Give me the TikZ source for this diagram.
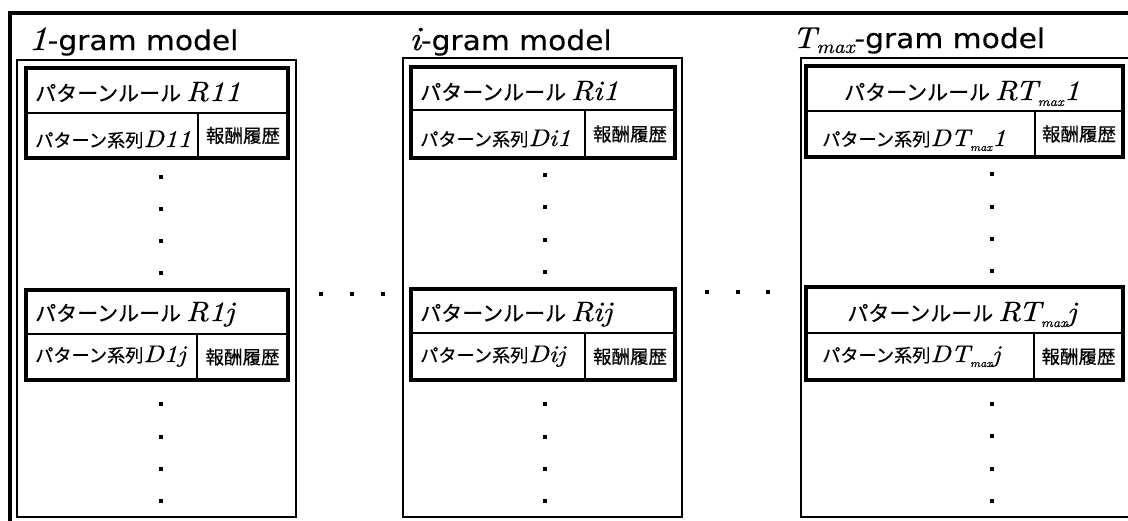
\documentclass[tikz,border=0pt]{standalone}
\usepackage{fontspec}
\newfontfamily\jp[FakeBold=0.5]{Noto Sans CJK JP}
\newfontfamily\lat[FakeBold=0.3,FakeStretch=1.1]{DejaVu Sans}
\newfontfamily\mitfont[FakeStretch=1.12,FakeBold=0.4]{lmroman10-italic.otf}
\tikzset{
  x=1pt, y=-1pt,
  outerframe/.style={line width=4pt},
  modelbox/.style={line width=2.8pt},
  rulebox/.style={line width=3.6pt},
  divider/.style={line width=1.3pt},
  title/.style={anchor=base west, inner sep=0pt, font=\lat\fontsize{27}{30}\selectfont},
  rowone/.style={inner sep=0pt, font=\jp\fontsize{21}{24}\selectfont},
  rowtwo/.style={inner sep=0pt, font=\jp\fontsize{18.2}{21}\selectfont},
  hist/.style={inner sep=0pt, font=\jp\fontsize{18.5}{21}\selectfont},
  vdot/.style={fill=black},
}
% italic symbol text at a given size
\newcommand\sym[2]{{\fontsize{#1}{#1}\selectfont\mitfont #2}}
% lowered small "max" index: size, drop
\newcommand\maxidx[2]{\raisebox{-#2pt}{\sym{#1}{max}}}
% a rule box: left, top, mid, bottom, right, divider x, name, first row, second row
\newcommand\rulecell[9]{%
  \draw[divider] (#1,#3) -- (#5,#3);
  \draw[divider] (#6,#3) -- (#6,#4);
  \draw[rulebox] (#1,#2) rectangle (#5,#4);
  \node[hist] (#7h) at ({(#6+#5)/2},{(#3+#4)/2}) {報酬履歴};
  #8
  #9
}
\newcommand\dotcol[5]{%
  \foreach \yy in {#2,#3,#4,#5} \fill[vdot] (#1-1.6,\yy-1.6) rectangle (#1+1.6,\yy+1.6);
}
\begin{document}
\begin{tikzpicture}
\useasboundingbox (0,0) rectangle (1128,520);
\clip (0,0) rectangle (1128,520);

% frame holding all models
\draw[outerframe] (10,12.5) rectangle (1160,560);

% ---------- 1-gram model ----------
\node[title] (t1) at (28,50) {\sym{34}{1}-gram model};
\draw[modelbox] (17,60) rectangle (296,517);
\rulecell{26}{68}{113}{158}{288}{198}{a1}
  {\node[rowone, anchor=base west] (a1r) at (35,101) {パターンルール \sym{28}{R11}};}
  {\node[rowtwo, anchor=base west] (a1d) at (35,147) {パターン系列\sym{24}{D11}};}
\dotcol{161}{177}{209}{241}{273}
\rulecell{26}{290}{334}{380}{288}{197}{aj}
  {\node[rowone, anchor=base west] (ajr) at (35,321) {パターンルール \sym{28}{R1j}};}
  {\node[rowtwo, anchor=base west] (ajd) at (35,362) {パターン系列\sym{24}{D1j}};}
\dotcol{161}{404}{437}{469}{501}

% dots between models
\foreach \xx in {321,352,383} \fill (\xx-2,292) rectangle (\xx+2,296);
\foreach \xx in {707,738,768} \fill (\xx-2,290) rectangle (\xx+2,294);

% ---------- i-gram model ----------
\node[title] (ti) at (409,50) {\sym{34}{i}-gram model};
\draw[modelbox] (403,58) rectangle (682,517);
\rulecell{411}{67}{110}{158}{675}{585}{b1}
  {\node[rowone, anchor=base west] (b1r) at (420,100) {パターンルール \sym{28}{Ri1}};}
  {\node[rowtwo, anchor=base west] (b1d) at (420,146) {パターン系列\sym{24}{Di1}};}
\dotcol{545}{175}{207}{240}{272}
\rulecell{411}{289}{333}{380}{675}{585}{bj}
  {\node[rowone, anchor=base west] (bjr) at (420,321) {パターンルール \sym{28}{Rij}};}
  {\node[rowtwo, anchor=base west] (bjd) at (420,362) {パターン系列\sym{24}{Dij}};}
\dotcol{545}{404}{437}{469}{501}

% ---------- T_max-gram model ----------
\node[title] (tt) at (792,48) {\sym{30}{T}\maxidx{19}{5}-gram model};
\draw[modelbox] (801,58) rectangle (1160,517);
\rulecell{806}{66}{111}{157}{1123}{1035}{c1}
  {\node[rowone, anchor=base] (c1r) at (962,100) {パターンルール \sym{28}{RT}\maxidx{13}{6}\sym{28}{1}};}
  {\node[rowtwo, anchor=base west] (c1d) at (822,146) {パターン系列\sym{24}{DT}\maxidx{11}{5}\sym{24}{1}};}
\dotcol{992}{174}{207}{239}{271}
\rulecell{806}{287}{333}{380}{1123}{1034}{cj}
  {\node[rowone, anchor=base] (cjr) at (962,321) {パターンルール \sym{28}{RT}\maxidx{13}{6}\sym{28}{j}};}
  {\node[rowtwo, anchor=base west] (cjd) at (822,362) {パターン系列\sym{24}{DT}\maxidx{11}{5}\sym{24}{j}};}
\dotcol{992}{404}{436}{469}{501}
\end{tikzpicture}
\end{document}
